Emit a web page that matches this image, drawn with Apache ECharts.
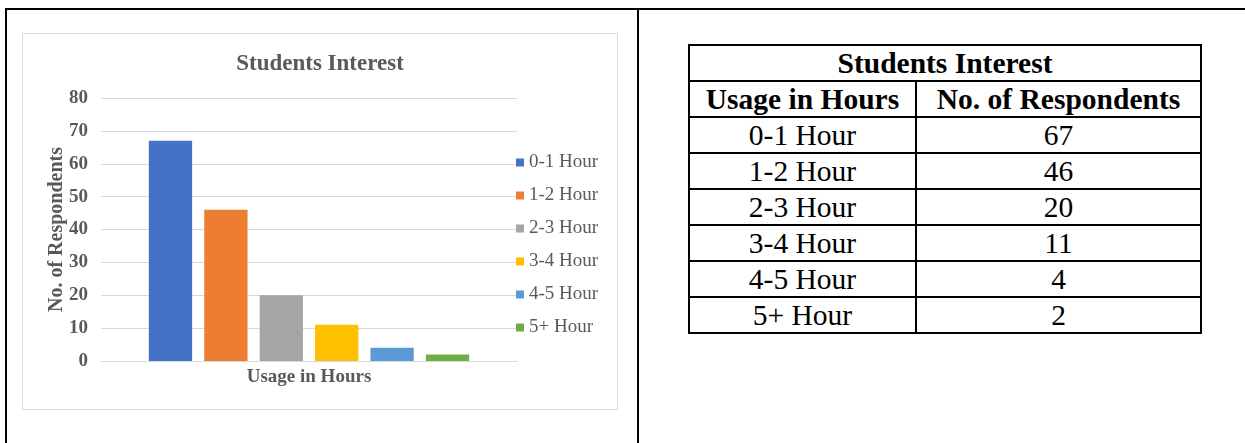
<!DOCTYPE html>
<html>
<head>
<meta charset="utf-8">
<script src="https://cdn.jsdelivr.net/npm/echarts@6/dist/echarts.min.js"></script>
<style>
	body { margin:0; background:#fff; width:1245px; height:443px; overflow:hidden; position:relative; font-family:"Liberation Serif", serif; }
	#frame { position:absolute; left:5px; top:8px; width:1300px; height:500px; border-left:2px solid #000; border-top:2px solid #000; }
	#divider { position:absolute; left:637px; top:8px; width:2px; height:440px; background:#000; }
	#chart { position:absolute; left:22px; top:33px; width:594px; height:375px; border:1px solid #d9d9d9; }
	#tbl { position:absolute; left:688px; top:44px; border-collapse:collapse; font-family:"Liberation Serif", serif; font-size:29.5px; color:#000; }
	#tbl td, #tbl th { border:2px solid #000; text-align:center; padding:0; height:34px; line-height:30px; font-family:"Liberation Serif", serif; }
	#tbl th { font-weight:bold; }
</style>
</head>
<body>
<div id="frame"></div>
<div id="divider"></div>
<div id="chart"></div>
<table id="tbl"></table>
<script>
	var title = 'Students Interest';
	var categories = ['0-1 Hour', '1-2 Hour', '2-3 Hour', '3-4 Hour', '4-5 Hour', '5+ Hour'];
	var respondents = [67, 46, 20, 11, 4, 2];
	var colors = ['#4472C4', '#ED7D31', '#A5A5A5', '#FFC000', '#5B9BD5', '#70AD47'];
	var yTicks = [0, 10, 20, 30, 40, 50, 60, 70, 80];

	// table on the right
	var html = "<tr><th colspan='2'>" + title + "</th></tr>";
	html += "<tr><th style='width:225px'>Usage in Hours</th><th style='width:283px'>No. of Respondents</th></tr>";
	for (var i = 0; i < categories.length; i++) {
		html += "<tr><td>" + categories[i] + "</td><td>" + respondents[i] + "</td></tr>";
	}
	document.getElementById('tbl').innerHTML = html;

	var series = [];
	for (var i = 0; i < categories.length; i++) {
		series.push({
			name: categories[i],
			type: 'bar',
			data: [respondents[i]],
			itemStyle: { color: colors[i] },
			barGap: '28%',
			barCategoryGap: '23%'
		});
	}

	var myChart = echarts.init(document.getElementById('chart'));
	var option = {
		animation: false,
		textStyle: { fontFamily: 'Liberation Serif' },
		title: {
			text: title,
			left: 292,
			textAlign: 'center',
			top: 14,
			textStyle: { fontFamily: 'Liberation Serif', fontSize: 23, fontWeight: 'bold', color: '#595959' }
		},
		legend: {
			orient: 'vertical',
			left: 488,
			top: 114,
			itemWidth: 8,
			itemHeight: 8,
			itemGap: 14,
			icon: 'rect',
			data: categories,
			textStyle: { fontFamily: 'Liberation Serif', fontSize: 19, color: '#595959' }
		},
		grid: { left: 78, right: 100, top: 64, bottom: 48 },
		xAxis: {
			type: 'category',
			data: [''],
			name: 'Usage in Hours',
			nameLocation: 'middle',
			nameGap: 7,
			nameTextStyle: { fontFamily: 'Liberation Serif', fontSize: 19, fontWeight: 'bold', color: '#595959' },
			axisLine: { lineStyle: { color: '#d9d9d9' } },
			axisTick: { show: false },
			axisLabel: { show: false }
		},
		yAxis: {
			type: 'value',
			min: yTicks[0],
			max: yTicks[yTicks.length - 1],
			interval: yTicks[1] - yTicks[0],
			name: 'No. of Respondents',
			nameLocation: 'middle',
			nameGap: 34,
			nameMoveOverlap: false,
			nameTextStyle: { fontFamily: 'Liberation Serif', fontSize: 20, fontWeight: 'bold', color: '#595959' },
			axisLine: { show: false },
			axisTick: { show: false },
			axisLabel: { fontFamily: 'Liberation Serif', fontSize: 19, fontWeight: 'bold', color: '#595959', margin: 13 },
			splitLine: { lineStyle: { color: '#d9d9d9' } }
		},
		series: series
	};
	myChart.setOption(option);
</script>
</body>
</html>
